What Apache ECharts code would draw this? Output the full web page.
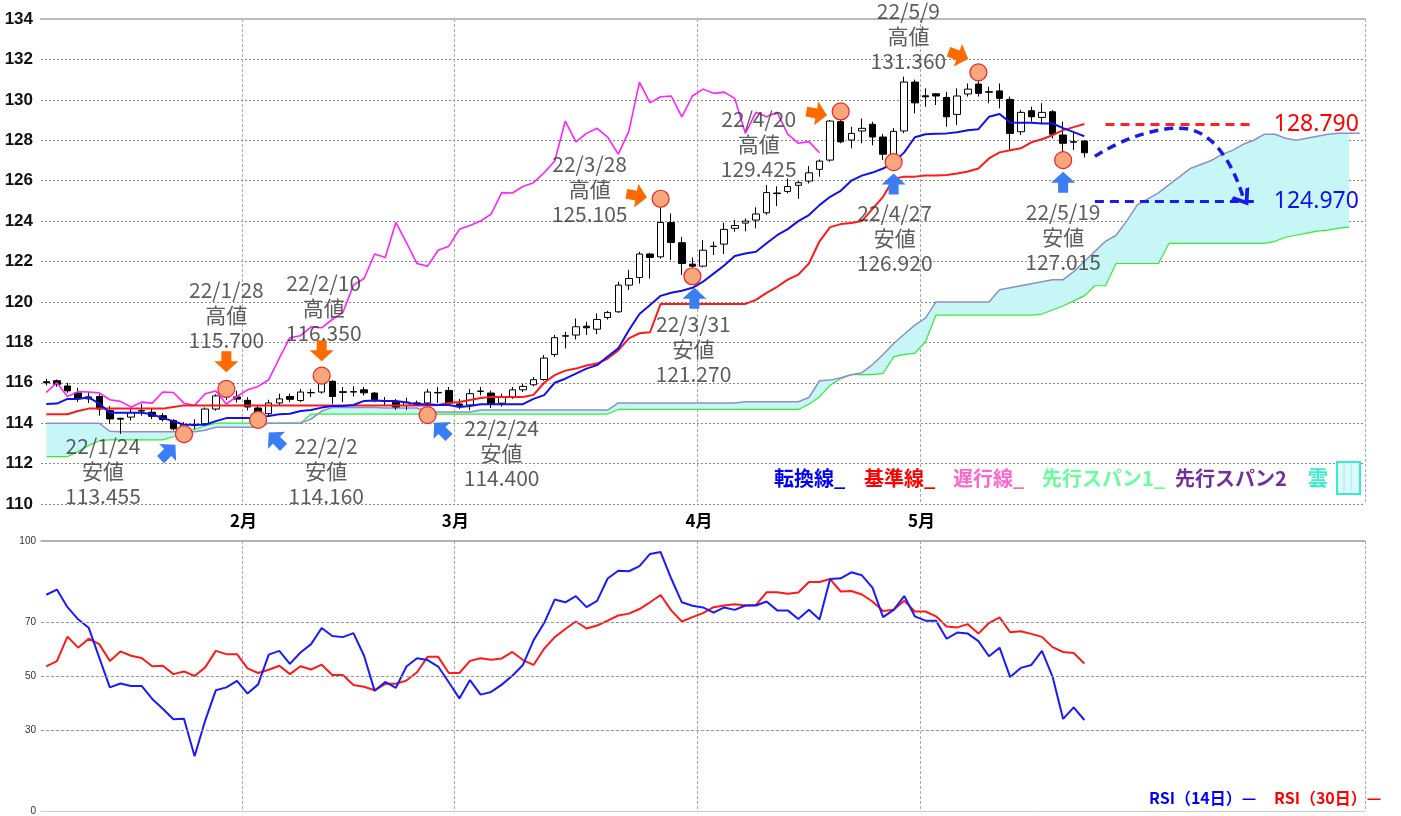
<!DOCTYPE html>
<html>
<head>
<meta charset="utf-8">
<title>ドル円 一目均衡表</title>
<style>
  html, body { margin: 0; padding: 0; background: #fff; }
  #main { width: 1401px; height: 816px; }
</style>
</head>
<body>
<div id="main"></div>
<script src="https://cdn.jsdelivr.net/npm/echarts/dist/echarts.min.js"></script>
<script>
// 営業日 (2022/1/5 ～) : ローソク99本 + 先行スパン用の26本
var dates = [];
(function () {
  var d = new Date(2022, 0, 5);
  while (dates.length < 125) {
    var w = d.getDay();
    if (w !== 0 && w !== 6) dates.push(d.getFullYear() + '/' + (d.getMonth() + 1) + '/' + d.getDate());
    d.setDate(d.getDate() + 1);
  }
})();

// ローソク足 (始値・終値・安値・高値)
var opens = [116.05,116.10,115.84,115.50,115.20,115.32,114.62,114.24,114.30,114.60,114.54,114.37,114.13,113.72,113.92,113.97,114.70,115.35,115.30,
  115.13,114.75,114.47,115.00,115.32,115.12,115.50,115.54,116.07,115.52,115.56,115.65,115.49,115.10,115.04,114.88,115.00,115.00,115.50,115.62,
  114.95,114.90,115.57,115.49,114.99,115.30,115.65,115.90,116.16,117.40,118.30,118.36,118.80,118.65,119.23,119.51,120.83,121.21,122.37,122.23,123.93,122.93,121.87,
  121.77,122.74,122.86,123.64,123.90,124.05,124.41,125.36,125.47,125.77,125.98,126.56,127.02,128.92,128.01,128.46,128.79,128.16,127.27,128.46,130.88,
  130.20,130.30,130.12,129.28,130.29,130.78,130.40,130.44,130.02,128.42,129.46,129.13,129.41,128.26,127.90,127.96];
var closes = [116.00,115.92,115.60,115.22,115.30,114.70,114.21,114.20,114.53,114.62,114.34,114.18,113.72,113.92,113.88,114.70,115.35,115.30,115.19,
  114.80,114.47,115.00,115.20,115.18,115.54,115.52,116.00,115.32,115.56,115.54,115.50,115.16,115.08,114.80,115.04,114.99,115.54,115.52,114.99,
  114.88,115.46,115.59,114.95,115.32,115.65,115.82,116.15,117.22,118.23,118.33,118.77,118.72,119.13,119.48,120.83,121.16,122.37,122.20,123.93,122.94,121.90,121.77,
  122.56,122.76,123.59,123.78,124.00,124.35,125.41,125.39,125.71,125.90,126.39,126.97,128.95,127.92,128.34,128.59,128.16,127.31,128.44,130.88,129.85,
  130.15,130.19,129.16,130.19,130.53,130.32,130.38,130.07,128.34,129.38,129.16,129.38,128.30,127.85,127.93,127.38];
var lows = [115.87,115.80,115.50,115.05,115.00,114.37,113.97,113.47,114.13,114.37,114.20,114.08,113.64,113.455,113.70,113.88,114.62,115.15,115.02,
  114.63,114.16,114.38,114.88,115.04,115.04,115.29,115.46,114.96,115.04,115.32,115.37,115.04,114.88,114.66,114.66,114.88,114.40,115.00,114.96,
  114.70,114.64,115.38,114.75,114.82,115.20,115.54,115.82,116.10,117.28,117.70,118.14,118.36,118.40,119.13,119.46,120.59,120.91,121.16,122.15,122.07,121.33,121.27,
  121.71,122.32,122.37,123.47,123.50,123.64,124.30,124.74,125.37,125.10,125.86,126.20,126.94,127.85,127.60,127.85,127.75,127.02,126.92,128.35,129.33,
  129.66,129.74,128.67,128.75,130.16,130.16,129.83,129.58,127.51,128.26,128.92,128.83,128.09,127.015,127.51,127.15];
var highs = [116.20,116.16,116.00,115.75,115.55,115.43,114.86,114.27,114.70,114.95,114.70,114.50,114.20,114.05,114.20,114.78,115.43,115.70,115.60,
  115.29,114.88,115.16,115.46,115.46,115.70,115.70,116.35,116.12,115.79,115.82,115.79,115.54,115.29,115.20,115.26,115.12,115.70,115.78,115.79,
  115.20,115.70,115.79,115.62,115.46,115.79,115.95,116.28,117.37,118.36,118.52,119.18,119.02,119.43,119.56,121.00,121.58,122.48,122.43,125.105,124.38,123.22,122.20,
  123.06,122.98,123.92,124.05,124.13,124.68,125.78,125.72,126.10,125.98,126.72,127.05,129.00,129.425,128.67,129.08,128.92,128.30,128.60,131.15,131.00,
  130.57,130.32,130.40,130.57,130.81,131.36,130.65,130.81,130.16,129.50,129.66,129.83,129.50,128.92,128.42,128.00];

// 一目均衡表
var tenkan = [114.95,114.97,115.20,115.20,115.28,114.97,114.52,114.52,114.52,114.52,114.44,114.25,114.10,113.92,113.92,113.92,114.10,114.25,114.25,
  114.25,114.25,114.36,114.44,114.47,114.60,114.65,114.77,114.85,114.85,114.90,115.10,115.12,115.10,115.10,115.02,114.93,114.93,114.90,114.90,
  114.80,114.85,114.94,114.94,114.94,114.94,114.94,115.20,115.39,116.00,116.20,116.45,116.70,116.87,117.30,117.70,118.60,119.40,119.85,120.30,120.45,120.55,120.70,
  121.00,121.40,121.80,122.27,122.40,122.48,122.90,123.30,123.60,124.00,124.30,124.79,125.20,125.50,126.00,126.25,126.40,126.60,126.90,127.40,128.15,
  128.30,128.32,128.34,128.40,128.50,128.55,129.16,129.30,128.88,128.87,128.87,128.83,128.83,128.60,128.40,128.20];
var kijun = [114.44,114.44,114.44,114.60,114.72,114.72,114.72,114.72,114.72,114.72,114.72,114.72,114.80,114.88,114.88,114.88,114.88,114.88,114.88,
  114.88,114.88,114.88,114.88,114.88,114.88,114.88,114.88,114.88,114.88,114.88,114.88,114.88,114.88,114.88,114.88,114.88,114.88,114.90,115.00,
  115.05,115.15,115.25,115.30,115.30,115.30,115.30,115.40,116.00,116.38,116.60,116.70,116.85,116.95,117.20,117.60,118.20,118.45,118.50,119.90,119.90,119.90,119.90,
  119.90,119.90,119.90,119.90,119.90,120.10,120.45,120.75,121.10,121.35,121.90,123.00,123.70,123.85,123.90,124.00,124.60,125.20,126.10,126.20,126.20,
  126.25,126.25,126.28,126.35,126.45,126.60,127.10,127.40,127.50,127.60,127.90,128.05,128.25,128.50,128.65,128.80];
var chikou = [115.52,116.00,115.32,115.56,115.54,115.50,115.16,115.08,114.80,115.04,114.99,115.54,115.52,114.99,114.88,115.46,115.59,114.95,115.32,
  115.65,115.82,116.15,117.22,118.23,118.33,118.77,118.72,119.13,119.48,120.83,121.16,122.37,122.20,123.93,122.94,121.90,121.77,122.56,122.76,
  123.59,123.78,124.00,124.35,125.41,125.39,125.71,125.90,126.39,126.97,128.95,127.92,128.34,128.59,128.16,127.31,128.44,130.88,129.85,130.15,
  130.19,129.16,130.19,130.53,130.32,130.38,130.07,128.34,129.38,129.16,129.38,128.30,127.85,127.93,127.38];
var senkouA = [112.34,112.34,112.34,112.60,112.89,113.13,113.17,113.17,113.17,113.17,113.17,113.17,113.33,113.54,113.70,113.87,114.00,114.00,114.00,
  114.00,114.00,114.00,114.00,114.00,114.00,114.45,114.45,114.45,114.45,114.45,114.45,114.45,114.45,114.45,114.45,114.45,114.45,114.45,114.45,
  114.45,114.45,114.45,114.45,114.45,114.45,114.45,114.45,114.45,114.45,114.45,114.45,114.45,114.45,114.45,114.68,114.68,114.68,114.68,114.68,
  114.68,114.68,114.68,114.68,114.68,114.68,114.68,114.68,114.68,114.68,114.68,114.68,114.68,114.94,115.30,115.88,116.20,116.40,116.40,116.40,
  116.46,117.28,117.40,117.45,118.03,119.35,119.35,119.35,119.35,119.35,119.35,119.35,119.35,119.35,119.35,119.40,119.60,119.80,120.05,120.30,
  120.80,120.80,121.90,121.90,121.90,121.90,121.90,122.90,122.90,122.90,122.90,122.90,122.90,122.90,122.90,122.90,122.90,123.00,123.20,123.30,
  123.40,123.50,123.55,123.65,123.70];
var senkouB = [114.00,114.00,114.00,114.00,114.00,114.00,113.60,113.57,113.57,113.57,113.57,113.57,113.57,113.57,113.57,113.65,113.80,113.80,113.80,
  113.80,113.80,114.00,114.00,114.00,114.00,114.20,114.60,114.77,114.77,114.77,114.77,114.77,114.75,114.75,114.75,114.75,114.55,114.55,114.55,
  114.55,114.55,114.65,114.65,114.65,114.65,114.65,114.65,114.65,114.65,114.65,114.65,114.65,114.65,114.65,115.00,115.00,115.00,115.00,115.00,
  115.00,115.00,115.00,115.00,115.00,115.00,115.00,115.06,115.06,115.06,115.06,115.06,115.06,115.27,116.10,116.13,116.25,116.40,116.50,116.90,
  117.40,117.94,118.40,118.85,119.20,120.00,120.00,120.00,120.00,120.00,120.00,120.60,120.70,120.80,120.90,121.00,121.10,121.10,121.50,122.00,
  122.50,123.00,123.30,124.00,124.80,125.10,125.40,125.80,126.20,126.60,126.80,127.00,127.30,127.50,127.80,128.00,128.30,128.30,128.10,128.00,
  128.10,128.20,128.30,128.35,128.35,128.35];

// RSI
var rsi14 = [80.1,82.0,75.5,71.0,67.9,56.8,45.8,47.2,46.3,46.3,41.5,37.9,34.0,34.2,20.3,33.5,44.7,45.8,48.2,43.5,
  46.9,57.9,59.3,54.5,58.7,61.8,67.8,64.8,64.4,65.9,57.5,44.5,47.8,45.6,53.5,56.6,55.9,53.5,47.7,41.7,
  48.5,43.1,44.1,46.8,50.1,54.1,63.2,69.6,78.3,77.3,79.6,75.5,77.8,86.1,89.0,88.8,90.7,95.2,95.9,86.1,
  77.3,76.0,75.4,73.5,75.4,74.5,76.1,76.1,77.6,74.3,74.3,71.1,74.5,70.9,85.9,86.2,88.4,87.3,82.7,71.8,
  74.5,79.6,72.1,70.5,70.5,63.8,66.1,65.7,62.9,57.3,60.5,49.6,53.0,54.1,59.3,49.8,34.1,38.4,33.7];
var rsi30 = [53.6,55.5,64.6,60.5,63.8,61.8,55.6,59.1,57.5,56.7,53.6,53.8,50.7,51.7,50.0,53.2,59.3,58.1,58.1,52.8,
  51.1,52.3,53.8,50.7,53.6,52.4,54.2,50.4,50.4,46.7,46.0,44.7,47.1,47.1,48.3,51.4,57.1,57.1,51.1,51.1,
  55.6,56.6,56.0,56.5,58.9,55.9,54.1,60.1,64.4,67.4,70.2,67.6,68.7,70.5,72.4,73.1,74.8,77.3,80.0,74.3,
  70.2,71.8,73.3,75.5,76.1,76.6,76.1,76.3,81.0,81.0,80.5,80.9,84.8,84.8,85.9,81.3,81.5,80.2,77.6,74.1,
  74.5,77.9,73.9,73.9,72.1,68.3,68.0,69.2,65.7,69.6,71.7,66.2,66.6,65.6,64.5,60.7,58.9,58.5,54.6];

// 高値・安値の注記
var annIdx   = [13, 17, 20, 26, 36, 58, 61, 75, 80, 88, 96];
var annPrice = [113.455, 115.700, 114.160, 116.350, 114.400, 125.105, 121.270, 129.425, 126.920, 131.360, 127.015];
var annDate  = ['22/1/24','22/1/28','22/2/2','22/2/10','22/2/24','22/3/28','22/3/31','22/4/20','22/4/27','22/5/9','22/5/19'];
var annKind  = ['安値','高値','安値','高値','安値','高値','安値','高値','安値','高値','安値'];

// 目標値
var targetHigh = 128.790;
var targetLow = 124.970;

// ---- ここから描画設定 ----
// 注記の配置 (px): 文字のずれ, 矢印のずれ, 矢印の向き
var annLayout = [
  { text: [-81, 37],  arrow: [-16, 18],  rot: -45 },
  { text: [0, -74],   arrow: [0, -27],   rot: 180 },
  { text: [68, 51],   arrow: [18, 20],   rot: 45 },
  { text: [2, -68],   arrow: [0, -25],   rot: 180 },
  { text: [74, 38],   arrow: [14, 15],   rot: 45 },
  { text: [-71, -10], arrow: [-24, -3],  rot: -100 },
  { text: [1, 73],    arrow: [2, 22],    rot: 0 },
  { text: [-82, 33],  arrow: [-24, 2],   rot: -100 },
  { text: [1, 76],    arrow: [0, 22],    rot: 0 },
  { text: [-70, -36], arrow: [-20, -17], rot: -110 },
  { text: [0, 77],    arrow: [0, 22],    rot: 0 }
];

var monthStarts = [];
for (var i = 1; i < closes.length; i++) {
  if (dates[i].split('/')[1] !== dates[i - 1].split('/')[1]) monthStarts.push(i);
}
function isMonthStart(idx) { return monthStarts.indexOf(idx) >= 0; }

var candleData = opens.map(function (o, k) { return [o, closes[k], lows[k], highs[k]]; });
var kumoDiff = senkouB.map(function (b, k) { return +(b - senkouA[k]).toFixed(3); });

var arrowPath = 'path://M12,0 L24,11 L17,11 L17,21 L7,21 L7,11 L0,11 Z';
var jpFont = '"Noto Sans CJK JP", "Noto Sans", sans-serif';

var circleData = annIdx.map(function (ix, k) { return [ix, annPrice[k]]; });
var arrowData = annIdx.map(function (ix, k) {
  var lay = annLayout[k];
  return {
    value: [ix, annPrice[k]],
    symbolRotate: lay.rot,
    symbolOffset: lay.arrow,
    itemStyle: { color: annKind[k] === '高値' ? '#ff6a00' : '#3b7df5' }
  };
});
var textData = annIdx.map(function (ix, k) {
  return {
    value: [ix, annPrice[k]],
    label: { offset: annLayout[k].text },
    name: annDate[k] + '\n' + annKind[k] + '\n' + annPrice[k].toFixed(3)
  };
});

var vLine = { show: true, interval: function (idx) { return isMonthStart(idx); },
  lineStyle: { color: '#aaa', type: [3, 2], width: 1 } };

var option = {
  animation: false,
  backgroundColor: '#fff',
  grid: [
    { left: 41, top: 19, width: 1324, height: 485 },
    { left: 41, top: 541, width: 1324, height: 272 }
  ],
  xAxis: [
    { type: 'category', gridIndex: 0, data: dates, boundaryGap: true,
      axisLine: { show: false }, axisTick: { show: false },
      axisLabel: { show: true, interval: 0, hideOverlap: false,
        formatter: function (v, idx) { return isMonthStart(idx) ? v.split('/')[1] + '月' : ''; },
        color: '#000', fontWeight: 'bold', fontSize: 17, fontFamily: jpFont,
        margin: 8, padding: [0, 8, 0, 0] },
      splitLine: vLine },
    { type: 'category', gridIndex: 0, data: dates, position: 'top',
      axisLine: { show: true, lineStyle: { color: '#bbb', width: 2 } },
      axisTick: { show: false }, axisLabel: { show: false }, splitLine: { show: false } },
    { type: 'category', gridIndex: 1, data: dates, boundaryGap: true,
      axisLine: { show: true, lineStyle: { color: '#ccc', width: 1 } },
      axisTick: { show: false }, axisLabel: { show: false }, splitLine: vLine },
    { type: 'category', gridIndex: 1, data: dates, position: 'top',
      axisLine: { show: true, lineStyle: { color: '#999', width: 1.5 } },
      axisTick: { show: false }, axisLabel: { show: false }, splitLine: { show: false } }
  ],
  yAxis: [
    { type: 'value', gridIndex: 0, min: 110, max: 134, interval: 2,
      axisLine: { show: false }, axisTick: { show: false },
      axisLabel: { color: '#111', fontWeight: 'bold', fontSize: 17, fontFamily: 'Liberation Sans', margin: 8 },
      splitLine: { show: true, lineStyle: { color: '#888', type: [2, 2], width: 1 } } },
    { type: 'value', gridIndex: 1, min: 0, max: 100, interval: 10,
      axisLine: { show: false }, axisTick: { show: false },
      axisLabel: { color: '#333', fontSize: 10, fontFamily: 'Liberation Sans', margin: 5,
        formatter: function (v) { return [0, 30, 50, 70, 100].indexOf(v) >= 0 ? String(v) : ''; } },
      splitLine: { show: false } }
  ],
  series: [
    // 雲
    { type: 'line', name: 'kumoBase', data: senkouA, stack: 'kumo', stackStrategy: 'all',
      symbol: 'none', lineStyle: { width: 0, opacity: 0 }, silent: true, z: 1 },
    { type: 'line', name: '雲', data: kumoDiff, stack: 'kumo', stackStrategy: 'all',
      symbol: 'none', lineStyle: { width: 0, opacity: 0 }, areaStyle: { color: '#c6f6f6', opacity: 1 },
      silent: true, z: 1 },
    { type: 'line', name: '先行スパン1', data: senkouA, symbol: 'none',
      lineStyle: { color: '#33ee33', width: 1.2 }, z: 2 },
    { type: 'line', name: '先行スパン2', data: senkouB, symbol: 'none',
      lineStyle: { color: '#8f8fc8', width: 1.5 }, z: 2 },
    // ローソク足
    { type: 'candlestick', name: 'USDJPY', data: candleData, barWidth: 7, z: 3,
      itemStyle: { color: '#fff', color0: '#000', borderColor: '#000', borderColor0: '#000',
        borderColorDoji: '#000', borderWidth: 1 } },
    { type: 'line', name: '遅行線', data: chikou, symbol: 'none',
      lineStyle: { color: '#ff22ff', width: 1.6 }, z: 4 },
    { type: 'line', name: '基準線', data: kijun, symbol: 'none',
      lineStyle: { color: '#ff1a1a', width: 2 }, z: 4,
      markLine: { silent: true, symbol: 'none', z: 4,
        data: [
          [ { coord: [100, targetHigh], lineStyle: { color: '#ff2020', type: [9, 6], width: 3 },
              label: { show: true, position: 'end', distance: 20, formatter: targetHigh.toFixed(3),
                color: '#ff0000', fontSize: 23, fontFamily: 'Noto Sans' } },
            { coord: [114, targetHigh] } ],
          [ { coord: [99, targetLow], lineStyle: { color: '#1a1aee', type: [9, 6], width: 3 },
              label: { show: true, position: 'end', distance: 20, formatter: targetLow.toFixed(3),
                color: '#1010ee', fontSize: 23, fontFamily: 'Noto Sans' } },
            { coord: [114, targetLow] } ],
          [ { yAxis: 134, lineStyle: { color: '#bbb', type: 'solid', width: 2 }, label: { show: false } },
            { yAxis: 134, x: 1365 } ]
        ] } },
    { type: 'line', name: '転換線', data: tenkan, symbol: 'none',
      lineStyle: { color: '#1010f0', width: 2 }, z: 4 },
    // 予想の曲線矢印
    { type: 'line', name: 'forecast', data: [[99, 127.2], [107, 128.6], [113, 125.15]],
      smooth: 0.6, symbol: 'none', lineStyle: { color: '#1a1aee', type: [9, 6], width: 3.5 }, z: 5,
      markPoint: { silent: true, data: [{ coord: [113, 125.15], symbol: 'path://M0,12 L10,0 L20,12',
        symbolSize: [18, 12], symbolRotate: -146, symbolOffset: [0, 0],
        itemStyle: { color: 'rgba(0,0,0,0)', borderColor: '#1a1aee', borderWidth: 3.5 },
        label: { show: false } }] } },
    // 注記
    { type: 'scatter', name: 'marks', data: circleData, symbol: 'circle', symbolSize: 17, z: 6,
      itemStyle: { color: '#f8a67c', borderColor: '#ee2222', borderWidth: 1.2, opacity: 1 } },
    { type: 'scatter', name: 'arrows', data: arrowData, symbol: arrowPath, symbolSize: [24, 21], z: 7,
      itemStyle: { opacity: 1 } },
    { type: 'scatter', name: 'labels', data: textData, symbol: 'circle', symbolSize: 1, z: 8,
      itemStyle: { color: 'rgba(0,0,0,0)' },
      label: { show: true, position: 'inside', formatter: function (p) { return p.name; },
        color: '#333', fontSize: 21, lineHeight: 25, fontFamily: jpFont, align: 'center', verticalAlign: 'middle' } },
    // RSI
    { type: 'line', name: 'RSI(14日)', xAxisIndex: 2, yAxisIndex: 1, data: rsi14, symbol: 'none',
      lineStyle: { color: '#1a1aff', width: 2 }, z: 4,
      markLine: { silent: true, symbol: 'none', label: { show: false },
        lineStyle: { color: '#999', type: [3, 2], width: 1 },
        data: [{ yAxis: 30 }, { yAxis: 50 }, { yAxis: 70 }] } },
    { type: 'line', name: 'RSI(30日)', xAxisIndex: 2, yAxisIndex: 1, data: rsi30, symbol: 'none',
      lineStyle: { color: '#ff1a1a', width: 2 }, z: 3 }
  ],
  graphic: [
    { type: 'text', left: 774, top: 468, z: 100, style: { text: '転換線_', fill: '#0000ff', fontSize: 20, fontWeight: 'bold', fontFamily: jpFont } },
    { type: 'text', left: 864, top: 468, z: 100, style: { text: '基準線_', fill: '#ff0000', fontSize: 20, fontWeight: 'bold', fontFamily: jpFont } },
    { type: 'text', left: 953, top: 468, z: 100, style: { text: '遅行線_', fill: '#ff66cc', fontSize: 20, fontWeight: 'bold', fontFamily: jpFont } },
    { type: 'text', left: 1042, top: 468, z: 100, style: { text: '先行スパン1_', fill: '#66ff99', fontSize: 20, fontWeight: 'bold', fontFamily: jpFont } },
    { type: 'text', left: 1175, top: 468, z: 100, style: { text: '先行スパン2', fill: '#7030a0', fontSize: 20, fontWeight: 'bold', fontFamily: jpFont } },
    { type: 'text', left: 1308, top: 468, z: 100, style: { text: '雲', fill: '#33eecc', fontSize: 20, fontWeight: 'bold', fontFamily: jpFont } },
    { type: 'rect', left: 1336, top: 461, z: 100, shape: { width: 23, height: 32 },
      style: { fill: '#dcfafa', stroke: '#33eecc', lineWidth: 2 } },
    { type: 'line', z: 101, shape: { x1: 1344, y1: 463, x2: 1344, y2: 491 }, style: { stroke: '#a8e4f0', lineWidth: 1 } },
    { type: 'line', z: 101, shape: { x1: 1351, y1: 463, x2: 1351, y2: 491 }, style: { stroke: '#a8e4f0', lineWidth: 1 } },
    { type: 'text', left: 1149, top: 790, z: 100, style: { text: 'RSI（14日）—', fill: '#0000ff', fontSize: 16, fontWeight: 'bold', fontFamily: jpFont } },
    { type: 'text', left: 1274, top: 790, z: 100, style: { text: 'RSI（30日）—', fill: '#ff0000', fontSize: 16, fontWeight: 'bold', fontFamily: jpFont } }
  ]
};

var myChart = echarts.init(document.getElementById('main'));
myChart.setOption(option);
</script>
</body>
</html>
